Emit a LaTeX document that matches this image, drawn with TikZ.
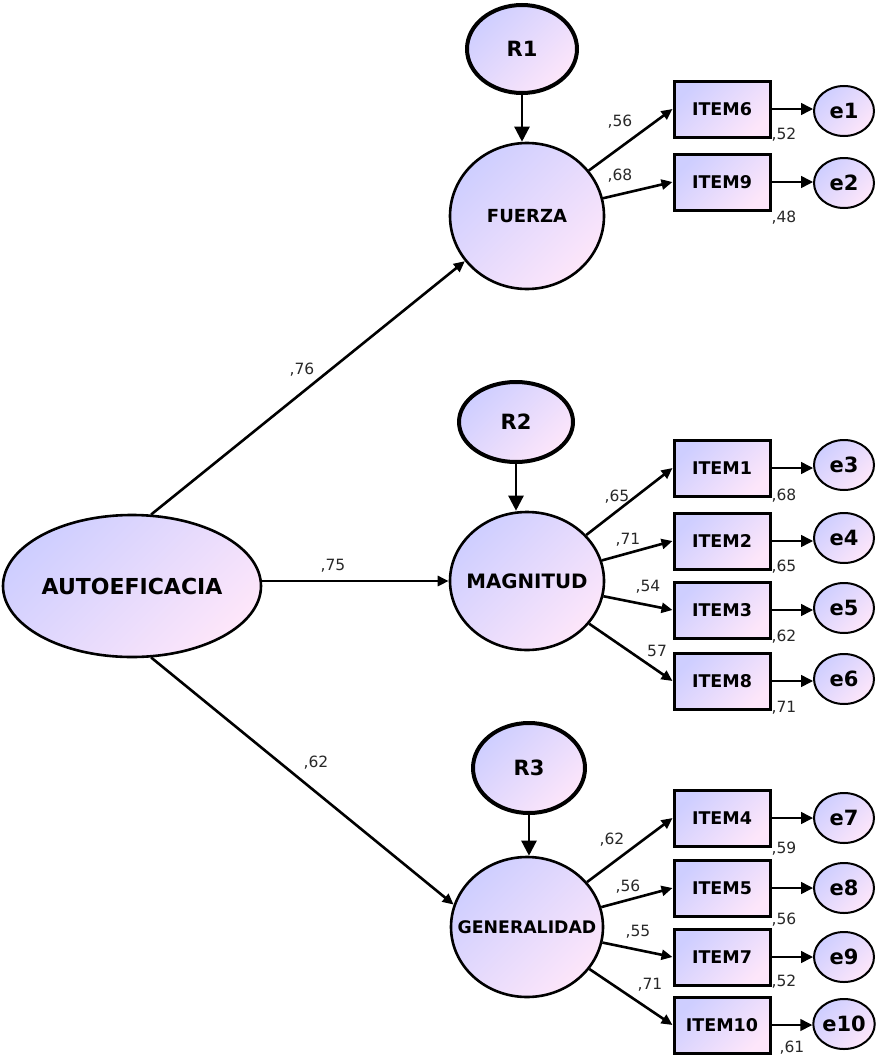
\documentclass[tikz,border=0pt]{standalone}
\usepackage{fontspec}
\setmainfont{DejaVu Sans}
\usetikzlibrary{shapes.geometric,arrows.meta}
\definecolor{lav}{RGB}{206,206,255}
\definecolor{pnk}{RGB}{253,230,250}
\definecolor{lbl}{RGB}{40,40,40}
\tikzset{
  grad/.style={left color=lav, right color=pnk, shading angle=45},
  latent/.style={ellipse, draw, grad, line width=2.6pt, inner sep=0pt, font=\bfseries\fontsize{18}{21}\selectfont},
  resvar/.style={ellipse, draw, grad, line width=4pt, inner sep=0pt, minimum width=110pt, minimum height=86pt, font=\bfseries\fontsize{21}{24}\selectfont},
  itembox/.style={rectangle, draw, grad, line width=3pt, inner sep=0pt, minimum width=96pt, minimum height=56pt, font=\bfseries\fontsize{17.5}{20}\selectfont},
  errvar/.style={ellipse, draw, grad, line width=2pt, inner sep=0pt, minimum width=60pt, minimum height=50pt, font=\bfseries\fontsize{21}{24}\selectfont},
  patharrow/.style={line width=2.6pt, -{Triangle[length=11pt,width=10pt]}},
  residarrow/.style={line width=1.5pt, -{Triangle[length=12pt,width=12pt]}},
  rarrow/.style={line width=2.4pt, -{Triangle[length=15pt,width=15pt]}},
  lab/.style={font=\fontsize{15.5}{18}\selectfont, text=lbl, inner sep=0pt},
}
\begin{document}
\begin{tikzpicture}[x=1pt,y=-1pt]
\useasboundingbox (0,0) rectangle (876,1057);
% main latent
\node[latent, minimum width=258pt, minimum height=142pt, font=\bfseries\fontsize{22}{26}\selectfont] (A) at (132,586) {\makebox[0pt]{AUTOEFICACIA}};
% first order latents
\node[latent, minimum width=154pt, minimum height=146pt] (F) at (527,216) {\makebox[0pt]{FUERZA}};
\node[latent, minimum width=154pt, minimum height=138pt, font=\bfseries\fontsize{19.8}{23}\selectfont] (M) at (527,581) {\makebox[0pt]{MAGNITUD}};
\node[latent, minimum width=152pt, minimum height=140pt, font=\bfseries\fontsize{17.3}{20}\selectfont] (G) at (527,927) {\makebox[0pt]{GENERALIDAD}};
% residuals
\node[resvar, minimum width=110pt, minimum height=88pt] (R1) at (522,49) {R1};
\node[resvar, minimum width=114pt, minimum height=80pt] (R2) at (516,422) {R2};
\node[resvar, minimum width=112pt, minimum height=90pt] (R3) at (529,768) {R3};
% items
\node[itembox] (I6) at (722,109) {ITEM6};
\node[itembox] (I9) at (722,182) {ITEM9};
\node[itembox] (I1) at (722,468) {ITEM1};
\node[itembox] (I2) at (722,541) {ITEM2};
\node[itembox] (I3) at (722,610) {ITEM3};
\node[itembox] (I8) at (722,681) {ITEM8};
\node[itembox] (I4) at (722,818) {ITEM4};
\node[itembox] (I5) at (722,888) {ITEM5};
\node[itembox] (I7) at (722,957) {ITEM7};
\node[itembox] (I10) at (722,1025) {ITEM10};
% errors
\node[errvar] (e1) at (844,111) {e1};
\node[errvar] (e2) at (844,183) {e2};
\node[errvar] (e3) at (844,465) {e3};
\node[errvar] (e4) at (844,538) {e4};
\node[errvar] (e5) at (844,608) {e5};
\node[errvar] (e6) at (844,679) {e6};
\node[errvar] (e7) at (844,818) {e7};
\node[errvar] (e8) at (844,888) {e8};
\node[errvar] (e9) at (844,957) {e9};
\node[errvar] (e10) at (844,1024) {e10};
% second order paths
\draw[patharrow] (A.75) -- (F.216);
\draw[patharrow] (A.east |- M.west) -- (M.west);
\draw[patharrow] (A.-75) -- (G.163);
% disturbance arrows
\draw[rarrow] (R1.south) -- (R1.south |- F.north);
\draw[rarrow] (R2.south) -- (R2.south |- M.north);
\draw[rarrow] (R3.south) -- (R3.south |- G.north);
% loadings
\draw[patharrow] (F) -- (I6.west);
\draw[patharrow] (F) -- (I9.west);
\draw[patharrow] (M) -- (I1.west);
\draw[patharrow] (M) -- (I2.west);
\draw[patharrow] (M) -- (I3.west);
\draw[patharrow] (M) -- (I8.west);
\draw[patharrow] (G) -- (I4.west);
\draw[patharrow] (G) -- (I5.west);
\draw[patharrow] (G) -- (I7.west);
\draw[patharrow] (G) -- (I10.west);
% error arrows
\foreach \i/\e in {I6/e1,I9/e2,I1/e3,I2/e4,I3/e5,I8/e6,I4/e7,I5/e8,I7/e9,I10/e10}
  \draw[residarrow] (\i.east) -- (\i.east -| \e.west);
% labels
\node[lab] (l1) at (302,370) {,76};
\node[lab] (l2) at (333,566) {,75};
\node[lab] (l3) at (316,763) {,62};
\node[lab] (l4) at (620,122) {,56};
\node[lab] (l5) at (620,176) {,68};
\node[lab] (l6) at (784,135) {,52};
\node[lab] (l7) at (784,218) {,48};
\node[lab] (l8) at (617,497) {,65};
\node[lab] (l9) at (628,540) {,71};
\node[lab] (l10) at (648,587) {,54};
\node[lab] (l11) at (657,651) {57};
\node[lab] (l12) at (784,496) {,68};
\node[lab] (l13) at (784,567) {,65};
\node[lab] (l14) at (784,637) {,62};
\node[lab] (l15) at (784,708) {,71};
\node[lab] (l16) at (612,840) {,62};
\node[lab] (l17) at (628,887) {,56};
\node[lab] (l18) at (638,932) {,55};
\node[lab] (l19) at (650,985) {,71};
\node[lab] (l20) at (784,849) {,59};
\node[lab] (l21) at (784,920) {,56};
\node[lab] (l22) at (784,982) {,52};
\node[lab] (l23) at (792,1048) {,61};
\end{tikzpicture}
\end{document}
